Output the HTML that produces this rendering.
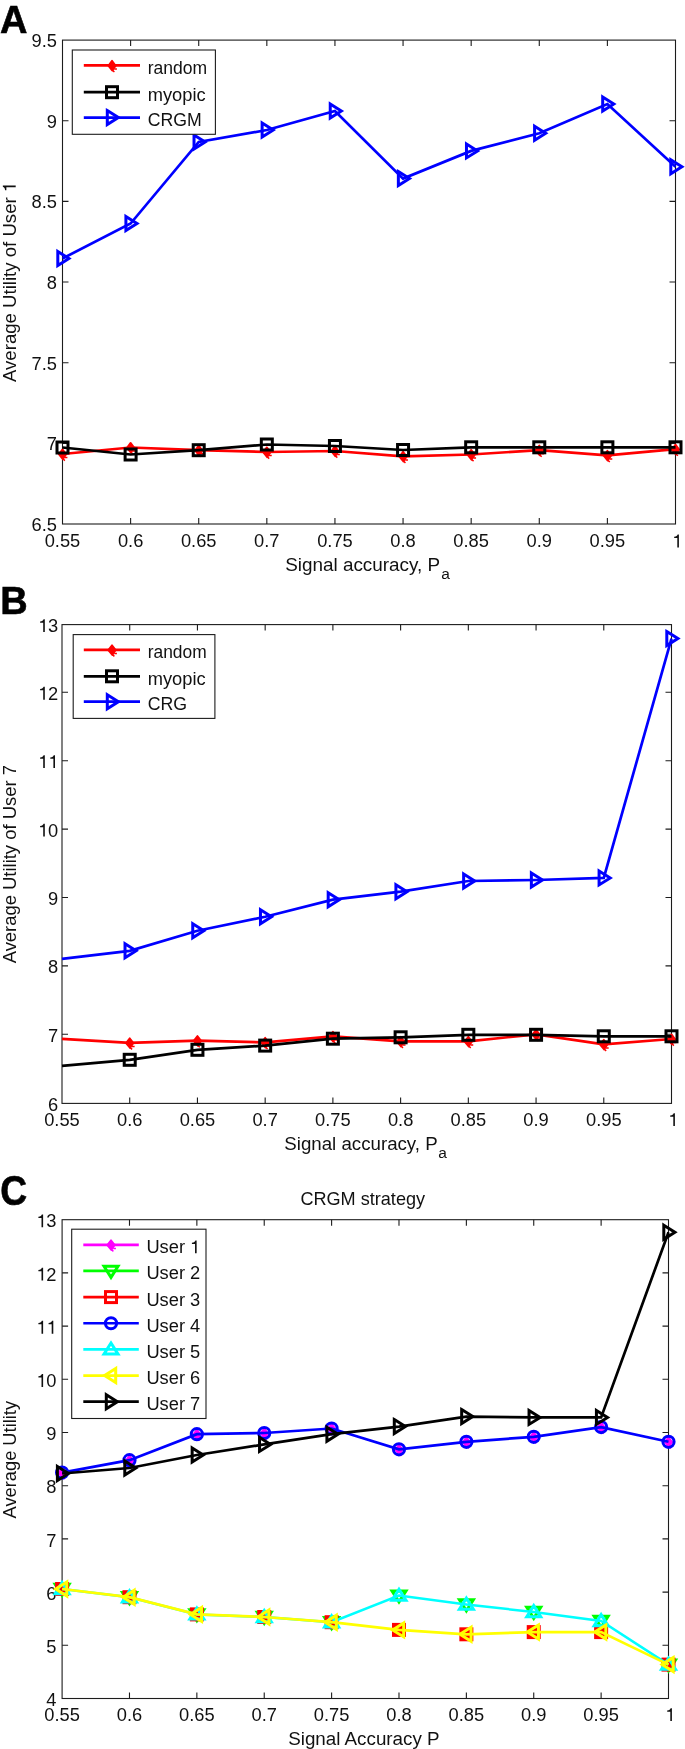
<!DOCTYPE html>
<html><head><meta charset="utf-8"><style>
html,body{margin:0;padding:0;background:#fff;}
body{width:685px;height:1749px;overflow:hidden;}
svg{display:block;font-family:"Liberation Sans",sans-serif;will-change:transform;}
</style></head><body>
<svg width="685" height="1749" viewBox="0 0 685 1749">
<rect width="685" height="1749" fill="#fff"/>
<path d="M130.61 524v-6M130.61 40.1v6M198.72 524v-6M198.72 40.1v6M266.83 524v-6M266.83 40.1v6M334.94 524v-6M334.94 40.1v6M403.06 524v-6M403.06 40.1v6M471.17 524v-6M471.17 40.1v6M539.28 524v-6M539.28 40.1v6M607.39 524v-6M607.39 40.1v6M62.5 120.75h6M675.5 120.75h-6M62.5 201.4h6M675.5 201.4h-6M62.5 282.05h6M675.5 282.05h-6M62.5 362.7h6M675.5 362.7h-6M62.5 443.35h6M675.5 443.35h-6" stroke="#1c1c1c" stroke-width="1.1" fill="none"/><rect x="62.5" y="40.1" width="613" height="483.9" fill="none" stroke="#1c1c1c" stroke-width="1.1"/><g font-size="18.3" fill="#111"><text x="62.5" y="547.4" text-anchor="middle">0.55</text><text x="130.61" y="547.4" text-anchor="middle">0.6</text><text x="198.72" y="547.4" text-anchor="middle">0.65</text><text x="266.83" y="547.4" text-anchor="middle">0.7</text><text x="334.94" y="547.4" text-anchor="middle">0.75</text><text x="403.06" y="547.4" text-anchor="middle">0.8</text><text x="471.17" y="547.4" text-anchor="middle">0.85</text><text x="539.28" y="547.4" text-anchor="middle">0.9</text><text x="607.39" y="547.4" text-anchor="middle">0.95</text><path transform="translate(672.34 547.4) scale(0.01830 -0.01830)" d="M271 0L359 0L359 703L290 703C270 640 220 590 101 578L101 510L271 510Z"/><text x="57" y="47.1" text-anchor="end">9.5</text><text x="57" y="127.75" text-anchor="end">9</text><text x="57" y="208.4" text-anchor="end">8.5</text><text x="57" y="289.05" text-anchor="end">8</text><text x="57" y="369.7" text-anchor="end">7.5</text><text x="57" y="450.35" text-anchor="end">7</text><text x="57" y="531" text-anchor="end">6.5</text></g><polyline points="62.5,454 130.61,447.5 198.72,450.2 266.83,452 334.94,451 403.06,456.3 471.17,454.5 539.28,450.1 607.39,455.4 675.5,449.2" fill="none" stroke="#ff0000" stroke-width="2.7" stroke-linejoin="miter"/><g stroke="#ff0000" fill="#ff0000"><path d="M62.5 449.4L66.2 454.3L62.8 459.2L58.8 454.3Z" stroke-width="1.8" stroke-linejoin="round"/><path d="M64.7 457.6L67.4 457.6M63.1 459L64.9 460.6" stroke-width="1.5" fill="none"/></g><g stroke="#ff0000" fill="#ff0000"><path d="M130.61 442.9L134.31 447.8L130.91 452.7L126.91 447.8Z" stroke-width="1.8" stroke-linejoin="round"/><path d="M132.81 451.1L135.51 451.1M131.21 452.5L133.01 454.1" stroke-width="1.5" fill="none"/></g><g stroke="#ff0000" fill="#ff0000"><path d="M198.72 445.6L202.42 450.5L199.02 455.4L195.02 450.5Z" stroke-width="1.8" stroke-linejoin="round"/><path d="M200.92 453.8L203.62 453.8M199.32 455.2L201.12 456.8" stroke-width="1.5" fill="none"/></g><g stroke="#ff0000" fill="#ff0000"><path d="M266.83 447.4L270.53 452.3L267.13 457.2L263.13 452.3Z" stroke-width="1.8" stroke-linejoin="round"/><path d="M269.03 455.6L271.73 455.6M267.43 457L269.23 458.6" stroke-width="1.5" fill="none"/></g><g stroke="#ff0000" fill="#ff0000"><path d="M334.94 446.4L338.64 451.3L335.24 456.2L331.24 451.3Z" stroke-width="1.8" stroke-linejoin="round"/><path d="M337.14 454.6L339.84 454.6M335.54 456L337.34 457.6" stroke-width="1.5" fill="none"/></g><g stroke="#ff0000" fill="#ff0000"><path d="M403.06 451.7L406.76 456.6L403.36 461.5L399.36 456.6Z" stroke-width="1.8" stroke-linejoin="round"/><path d="M405.26 459.9L407.96 459.9M403.66 461.3L405.46 462.9" stroke-width="1.5" fill="none"/></g><g stroke="#ff0000" fill="#ff0000"><path d="M471.17 449.9L474.87 454.8L471.47 459.7L467.47 454.8Z" stroke-width="1.8" stroke-linejoin="round"/><path d="M473.37 458.1L476.07 458.1M471.77 459.5L473.57 461.1" stroke-width="1.5" fill="none"/></g><g stroke="#ff0000" fill="#ff0000"><path d="M539.28 445.5L542.98 450.4L539.58 455.3L535.58 450.4Z" stroke-width="1.8" stroke-linejoin="round"/><path d="M541.48 453.7L544.18 453.7M539.88 455.1L541.68 456.7" stroke-width="1.5" fill="none"/></g><g stroke="#ff0000" fill="#ff0000"><path d="M607.39 450.8L611.09 455.7L607.69 460.6L603.69 455.7Z" stroke-width="1.8" stroke-linejoin="round"/><path d="M609.59 459L612.29 459M607.99 460.4L609.79 462" stroke-width="1.5" fill="none"/></g><g stroke="#ff0000" fill="#ff0000"><path d="M675.5 444.6L679.2 449.5L675.8 454.4L671.8 449.5Z" stroke-width="1.8" stroke-linejoin="round"/><path d="M677.7 452.8L680.4 452.8M676.1 454.2L677.9 455.8" stroke-width="1.5" fill="none"/></g><polyline points="62.5,447.5 130.61,454.5 198.72,450.2 266.83,444.5 334.94,446 403.06,450 471.17,447.3 539.28,447.3 607.39,447.3 675.5,447.3" fill="none" stroke="#000000" stroke-width="2.7" stroke-linejoin="miter"/><rect x="57" y="442" width="11" height="11" fill="none" stroke="#000000" stroke-width="3.0"/><rect x="125.11" y="449" width="11" height="11" fill="none" stroke="#000000" stroke-width="3.0"/><rect x="193.22" y="444.7" width="11" height="11" fill="none" stroke="#000000" stroke-width="3.0"/><rect x="261.33" y="439" width="11" height="11" fill="none" stroke="#000000" stroke-width="3.0"/><rect x="329.44" y="440.5" width="11" height="11" fill="none" stroke="#000000" stroke-width="3.0"/><rect x="397.56" y="444.5" width="11" height="11" fill="none" stroke="#000000" stroke-width="3.0"/><rect x="465.67" y="441.8" width="11" height="11" fill="none" stroke="#000000" stroke-width="3.0"/><rect x="533.78" y="441.8" width="11" height="11" fill="none" stroke="#000000" stroke-width="3.0"/><rect x="601.89" y="441.8" width="11" height="11" fill="none" stroke="#000000" stroke-width="3.0"/><rect x="670" y="441.8" width="11" height="11" fill="none" stroke="#000000" stroke-width="3.0"/><polyline points="62.5,258.5 130.61,223.5 198.72,142 266.83,130 334.94,111 403.06,178.6 471.17,150.9 539.28,133.3 607.39,104 675.5,166.8" fill="none" stroke="#0000ff" stroke-width="2.7" stroke-linejoin="miter"/><path d="M57.8 251.5L68.9 258.5L57.8 265.5Z" fill="none" stroke="#0000ff" stroke-width="3.0" stroke-linejoin="miter" stroke-miterlimit="10"/><path d="M125.91 216.5L137.01 223.5L125.91 230.5Z" fill="none" stroke="#0000ff" stroke-width="3.0" stroke-linejoin="miter" stroke-miterlimit="10"/><path d="M194.02 135L205.12 142L194.02 149Z" fill="none" stroke="#0000ff" stroke-width="3.0" stroke-linejoin="miter" stroke-miterlimit="10"/><path d="M262.13 123L273.23 130L262.13 137Z" fill="none" stroke="#0000ff" stroke-width="3.0" stroke-linejoin="miter" stroke-miterlimit="10"/><path d="M330.24 104L341.34 111L330.24 118Z" fill="none" stroke="#0000ff" stroke-width="3.0" stroke-linejoin="miter" stroke-miterlimit="10"/><path d="M398.36 171.6L409.46 178.6L398.36 185.6Z" fill="none" stroke="#0000ff" stroke-width="3.0" stroke-linejoin="miter" stroke-miterlimit="10"/><path d="M466.47 143.9L477.57 150.9L466.47 157.9Z" fill="none" stroke="#0000ff" stroke-width="3.0" stroke-linejoin="miter" stroke-miterlimit="10"/><path d="M534.58 126.3L545.68 133.3L534.58 140.3Z" fill="none" stroke="#0000ff" stroke-width="3.0" stroke-linejoin="miter" stroke-miterlimit="10"/><path d="M602.69 97L613.79 104L602.69 111Z" fill="none" stroke="#0000ff" stroke-width="3.0" stroke-linejoin="miter" stroke-miterlimit="10"/><path d="M670.8 159.8L681.9 166.8L670.8 173.8Z" fill="none" stroke="#0000ff" stroke-width="3.0" stroke-linejoin="miter" stroke-miterlimit="10"/><rect x="72.3" y="50" width="143.1" height="84.3" fill="#fff" stroke="#1c1c1c" stroke-width="1.1"/><line x1="83.8" y1="65.4" x2="140" y2="65.4" stroke="#ff0000" stroke-width="2.7"/><g stroke="#ff0000" fill="#ff0000"><path d="M112 60.8L115.7 65.7L112.3 70.6L108.3 65.7Z" stroke-width="1.8" stroke-linejoin="round"/><path d="M114.2 69L116.9 69M112.6 70.4L114.4 72" stroke-width="1.5" fill="none"/></g><text x="147.7" y="73.9" font-size="18.3" fill="#111" textLength="59.5" lengthAdjust="spacingAndGlyphs">random</text><line x1="83.8" y1="92.2" x2="140" y2="92.2" stroke="#000000" stroke-width="2.7"/><rect x="106.5" y="86.7" width="11" height="11" fill="none" stroke="#000000" stroke-width="3.0"/><text x="147.7" y="100.7" font-size="18.3" fill="#111">myopic</text><line x1="83.8" y1="117.6" x2="140" y2="117.6" stroke="#0000ff" stroke-width="2.7"/><path d="M107.3 110.6L118.4 117.6L107.3 124.6Z" fill="none" stroke="#0000ff" stroke-width="3.0" stroke-linejoin="miter" stroke-miterlimit="10"/><text x="147.7" y="126.1" font-size="18.3" fill="#111" textLength="54" lengthAdjust="spacingAndGlyphs">CRGM</text><path d="M129.72 1103.4v-6M129.72 624.6v6M197.44 1103.4v-6M197.44 624.6v6M265.17 1103.4v-6M265.17 624.6v6M332.89 1103.4v-6M332.89 624.6v6M400.61 1103.4v-6M400.61 624.6v6M468.33 1103.4v-6M468.33 624.6v6M536.06 1103.4v-6M536.06 624.6v6M603.78 1103.4v-6M603.78 624.6v6M62 692.3h6M671.5 692.3h-6M62 760.7h6M671.5 760.7h-6M62 829.1h6M671.5 829.1h-6M62 897.5h6M671.5 897.5h-6M62 965.9h6M671.5 965.9h-6M62 1034.3h6M671.5 1034.3h-6" stroke="#1c1c1c" stroke-width="1.1" fill="none"/><rect x="62" y="624.6" width="609.5" height="478.8" fill="none" stroke="#1c1c1c" stroke-width="1.1"/><g font-size="18.3" fill="#111"><text x="62" y="1126" text-anchor="middle">0.55</text><text x="129.72" y="1126" text-anchor="middle">0.6</text><text x="197.44" y="1126" text-anchor="middle">0.65</text><text x="265.17" y="1126" text-anchor="middle">0.7</text><text x="332.89" y="1126" text-anchor="middle">0.75</text><text x="400.61" y="1126" text-anchor="middle">0.8</text><text x="468.33" y="1126" text-anchor="middle">0.85</text><text x="536.06" y="1126" text-anchor="middle">0.9</text><text x="603.78" y="1126" text-anchor="middle">0.95</text><path transform="translate(668.34 1126) scale(0.01830 -0.01830)" d="M271 0L359 0L359 703L290 703C270 640 220 590 101 578L101 510L271 510Z"/><text x="58.2" y="632" text-anchor="end">&#8199;3</text><path transform="translate(38.25 632) scale(0.01830 -0.01830)" d="M271 0L359 0L359 703L290 703C270 640 220 590 101 578L101 510L271 510Z"/><text x="58.2" y="699.7" text-anchor="end">&#8199;2</text><path transform="translate(38.25 699.7) scale(0.01830 -0.01830)" d="M271 0L359 0L359 703L290 703C270 640 220 590 101 578L101 510L271 510Z"/><text x="58.2" y="768.1" text-anchor="end">&#8199;&#8199;</text><path transform="translate(38.25 768.1) scale(0.01830 -0.01830)" d="M271 0L359 0L359 703L290 703C270 640 220 590 101 578L101 510L271 510Z"/><path transform="translate(48.43 768.1) scale(0.01830 -0.01830)" d="M271 0L359 0L359 703L290 703C270 640 220 590 101 578L101 510L271 510Z"/><text x="58.2" y="836.5" text-anchor="end">&#8199;0</text><path transform="translate(38.25 836.5) scale(0.01830 -0.01830)" d="M271 0L359 0L359 703L290 703C270 640 220 590 101 578L101 510L271 510Z"/><text x="58.2" y="904.9" text-anchor="end">9</text><text x="58.2" y="973.3" text-anchor="end">8</text><text x="58.2" y="1041.7" text-anchor="end">7</text><text x="58.2" y="1110.8" text-anchor="end">6</text></g><polyline points="62,1038.9 129.72,1042.8 197.44,1040.6 265.17,1042.4 332.89,1036.4 400.61,1041.3 468.33,1041.3 536.06,1034.3 603.78,1044.3 671.5,1039" fill="none" stroke="#ff0000" stroke-width="2.7" stroke-linejoin="miter"/><g stroke="#ff0000" fill="#ff0000"><path d="M129.72 1038.2L133.42 1043.1L130.02 1048L126.02 1043.1Z" stroke-width="1.8" stroke-linejoin="round"/><path d="M131.92 1046.4L134.62 1046.4M130.32 1047.8L132.12 1049.4" stroke-width="1.5" fill="none"/></g><g stroke="#ff0000" fill="#ff0000"><path d="M197.44 1036L201.14 1040.9L197.74 1045.8L193.74 1040.9Z" stroke-width="1.8" stroke-linejoin="round"/><path d="M199.64 1044.2L202.34 1044.2M198.04 1045.6L199.84 1047.2" stroke-width="1.5" fill="none"/></g><g stroke="#ff0000" fill="#ff0000"><path d="M265.17 1037.8L268.87 1042.7L265.47 1047.6L261.47 1042.7Z" stroke-width="1.8" stroke-linejoin="round"/><path d="M267.37 1046L270.07 1046M265.77 1047.4L267.57 1049" stroke-width="1.5" fill="none"/></g><g stroke="#ff0000" fill="#ff0000"><path d="M332.89 1031.8L336.59 1036.7L333.19 1041.6L329.19 1036.7Z" stroke-width="1.8" stroke-linejoin="round"/><path d="M335.09 1040L337.79 1040M333.49 1041.4L335.29 1043" stroke-width="1.5" fill="none"/></g><g stroke="#ff0000" fill="#ff0000"><path d="M400.61 1036.7L404.31 1041.6L400.91 1046.5L396.91 1041.6Z" stroke-width="1.8" stroke-linejoin="round"/><path d="M402.81 1044.9L405.51 1044.9M401.21 1046.3L403.01 1047.9" stroke-width="1.5" fill="none"/></g><g stroke="#ff0000" fill="#ff0000"><path d="M468.33 1036.7L472.03 1041.6L468.63 1046.5L464.63 1041.6Z" stroke-width="1.8" stroke-linejoin="round"/><path d="M470.53 1044.9L473.23 1044.9M468.93 1046.3L470.73 1047.9" stroke-width="1.5" fill="none"/></g><g stroke="#ff0000" fill="#ff0000"><path d="M536.06 1029.7L539.76 1034.6L536.36 1039.5L532.36 1034.6Z" stroke-width="1.8" stroke-linejoin="round"/><path d="M538.26 1037.9L540.96 1037.9M536.66 1039.3L538.46 1040.9" stroke-width="1.5" fill="none"/></g><g stroke="#ff0000" fill="#ff0000"><path d="M603.78 1039.7L607.48 1044.6L604.08 1049.5L600.08 1044.6Z" stroke-width="1.8" stroke-linejoin="round"/><path d="M605.98 1047.9L608.68 1047.9M604.38 1049.3L606.18 1050.9" stroke-width="1.5" fill="none"/></g><g stroke="#ff0000" fill="#ff0000"><path d="M671.5 1034.4L675.2 1039.3L671.8 1044.2L667.8 1039.3Z" stroke-width="1.8" stroke-linejoin="round"/><path d="M673.7 1042.6L676.4 1042.6M672.1 1044L673.9 1045.6" stroke-width="1.5" fill="none"/></g><polyline points="62,1065.9 129.72,1059.8 197.44,1049.8 265.17,1045.6 332.89,1038.7 400.61,1037.3 468.33,1034.8 536.06,1034.8 603.78,1036.3 671.5,1036.3" fill="none" stroke="#000000" stroke-width="2.7" stroke-linejoin="miter"/><rect x="124.22" y="1054.3" width="11" height="11" fill="none" stroke="#000000" stroke-width="3.0"/><rect x="191.94" y="1044.3" width="11" height="11" fill="none" stroke="#000000" stroke-width="3.0"/><rect x="259.67" y="1040.1" width="11" height="11" fill="none" stroke="#000000" stroke-width="3.0"/><rect x="327.39" y="1033.2" width="11" height="11" fill="none" stroke="#000000" stroke-width="3.0"/><rect x="395.11" y="1031.8" width="11" height="11" fill="none" stroke="#000000" stroke-width="3.0"/><rect x="462.83" y="1029.3" width="11" height="11" fill="none" stroke="#000000" stroke-width="3.0"/><rect x="530.56" y="1029.3" width="11" height="11" fill="none" stroke="#000000" stroke-width="3.0"/><rect x="598.28" y="1030.8" width="11" height="11" fill="none" stroke="#000000" stroke-width="3.0"/><rect x="666" y="1030.8" width="11" height="11" fill="none" stroke="#000000" stroke-width="3.0"/><polyline points="62,958.9 129.72,950.8 197.44,930.8 265.17,916.8 332.89,899.7 400.61,891.7 468.33,881 536.06,880 603.78,877.9 671.5,638.6" fill="none" stroke="#0000ff" stroke-width="2.7" stroke-linejoin="miter"/><path d="M125.02 943.8L136.12 950.8L125.02 957.8Z" fill="none" stroke="#0000ff" stroke-width="3.0" stroke-linejoin="miter" stroke-miterlimit="10"/><path d="M192.74 923.8L203.84 930.8L192.74 937.8Z" fill="none" stroke="#0000ff" stroke-width="3.0" stroke-linejoin="miter" stroke-miterlimit="10"/><path d="M260.47 909.8L271.57 916.8L260.47 923.8Z" fill="none" stroke="#0000ff" stroke-width="3.0" stroke-linejoin="miter" stroke-miterlimit="10"/><path d="M328.19 892.7L339.29 899.7L328.19 906.7Z" fill="none" stroke="#0000ff" stroke-width="3.0" stroke-linejoin="miter" stroke-miterlimit="10"/><path d="M395.91 884.7L407.01 891.7L395.91 898.7Z" fill="none" stroke="#0000ff" stroke-width="3.0" stroke-linejoin="miter" stroke-miterlimit="10"/><path d="M463.63 874L474.73 881L463.63 888Z" fill="none" stroke="#0000ff" stroke-width="3.0" stroke-linejoin="miter" stroke-miterlimit="10"/><path d="M531.36 873L542.46 880L531.36 887Z" fill="none" stroke="#0000ff" stroke-width="3.0" stroke-linejoin="miter" stroke-miterlimit="10"/><path d="M599.08 870.9L610.18 877.9L599.08 884.9Z" fill="none" stroke="#0000ff" stroke-width="3.0" stroke-linejoin="miter" stroke-miterlimit="10"/><path d="M666.8 631.6L677.9 638.6L666.8 645.6Z" fill="none" stroke="#0000ff" stroke-width="3.0" stroke-linejoin="miter" stroke-miterlimit="10"/><rect x="73.2" y="634.6" width="141.7" height="83.8" fill="#fff" stroke="#1c1c1c" stroke-width="1.1"/><line x1="83.8" y1="649.8" x2="140" y2="649.8" stroke="#ff0000" stroke-width="2.7"/><g stroke="#ff0000" fill="#ff0000"><path d="M112 645.2L115.7 650.1L112.3 655L108.3 650.1Z" stroke-width="1.8" stroke-linejoin="round"/><path d="M114.2 653.4L116.9 653.4M112.6 654.8L114.4 656.4" stroke-width="1.5" fill="none"/></g><text x="147.7" y="658.3" font-size="18.3" fill="#111" textLength="59" lengthAdjust="spacingAndGlyphs">random</text><line x1="83.8" y1="676.3" x2="140" y2="676.3" stroke="#000000" stroke-width="2.7"/><rect x="106.5" y="670.8" width="11" height="11" fill="none" stroke="#000000" stroke-width="3.0"/><text x="147.7" y="684.8" font-size="18.3" fill="#111">myopic</text><line x1="83.8" y1="701.7" x2="140" y2="701.7" stroke="#0000ff" stroke-width="2.7"/><path d="M107.3 694.7L118.4 701.7L107.3 708.7Z" fill="none" stroke="#0000ff" stroke-width="3.0" stroke-linejoin="miter" stroke-miterlimit="10"/><text x="147.7" y="710.2" font-size="18.3" fill="#111" textLength="39.4" lengthAdjust="spacingAndGlyphs">CRG</text><path d="M129.48 1698.5v-6M129.48 1219.7v6M196.86 1698.5v-6M196.86 1219.7v6M264.23 1698.5v-6M264.23 1219.7v6M331.61 1698.5v-6M331.61 1219.7v6M398.99 1698.5v-6M398.99 1219.7v6M466.37 1698.5v-6M466.37 1219.7v6M533.74 1698.5v-6M533.74 1219.7v6M601.12 1698.5v-6M601.12 1219.7v6M62.1 1272.9h6M668.5 1272.9h-6M62.1 1326.1h6M668.5 1326.1h-6M62.1 1379.3h6M668.5 1379.3h-6M62.1 1432.5h6M668.5 1432.5h-6M62.1 1485.7h6M668.5 1485.7h-6M62.1 1538.9h6M668.5 1538.9h-6M62.1 1592.1h6M668.5 1592.1h-6M62.1 1645.3h6M668.5 1645.3h-6" stroke="#1c1c1c" stroke-width="1.1" fill="none"/><rect x="62.1" y="1219.7" width="606.4" height="478.8" fill="none" stroke="#1c1c1c" stroke-width="1.1"/><g font-size="18.3" fill="#111"><text x="62.1" y="1721" text-anchor="middle">0.55</text><text x="129.48" y="1721" text-anchor="middle">0.6</text><text x="196.86" y="1721" text-anchor="middle">0.65</text><text x="264.23" y="1721" text-anchor="middle">0.7</text><text x="331.61" y="1721" text-anchor="middle">0.75</text><text x="398.99" y="1721" text-anchor="middle">0.8</text><text x="466.37" y="1721" text-anchor="middle">0.85</text><text x="533.74" y="1721" text-anchor="middle">0.9</text><text x="601.12" y="1721" text-anchor="middle">0.95</text><path transform="translate(665.34 1721) scale(0.01830 -0.01830)" d="M271 0L359 0L359 703L290 703C270 640 220 590 101 578L101 510L271 510Z"/><text x="56.5" y="1227.3" text-anchor="end">&#8199;3</text><path transform="translate(36.55 1227.3) scale(0.01830 -0.01830)" d="M271 0L359 0L359 703L290 703C270 640 220 590 101 578L101 510L271 510Z"/><text x="56.5" y="1280.5" text-anchor="end">&#8199;2</text><path transform="translate(36.55 1280.5) scale(0.01830 -0.01830)" d="M271 0L359 0L359 703L290 703C270 640 220 590 101 578L101 510L271 510Z"/><text x="56.5" y="1333.7" text-anchor="end">&#8199;&#8199;</text><path transform="translate(36.55 1333.7) scale(0.01830 -0.01830)" d="M271 0L359 0L359 703L290 703C270 640 220 590 101 578L101 510L271 510Z"/><path transform="translate(46.73 1333.7) scale(0.01830 -0.01830)" d="M271 0L359 0L359 703L290 703C270 640 220 590 101 578L101 510L271 510Z"/><text x="56.5" y="1386.9" text-anchor="end">&#8199;0</text><path transform="translate(36.55 1386.9) scale(0.01830 -0.01830)" d="M271 0L359 0L359 703L290 703C270 640 220 590 101 578L101 510L271 510Z"/><text x="56.5" y="1440.1" text-anchor="end">9</text><text x="56.5" y="1493.3" text-anchor="end">8</text><text x="56.5" y="1546.5" text-anchor="end">7</text><text x="56.5" y="1599.7" text-anchor="end">6</text><text x="56.5" y="1652.9" text-anchor="end">5</text><text x="56.5" y="1706.1" text-anchor="end">4</text></g><g stroke="#ff00ff" fill="#ff00ff"><path d="M62.1 1468L65.8 1472.9L62.4 1477.8L58.4 1472.9Z" stroke-width="1.8" stroke-linejoin="round"/><path d="M64.3 1476.2L67 1476.2M62.7 1477.6L64.5 1479.2" stroke-width="1.5" fill="none"/></g><g stroke="#ff00ff" fill="#ff00ff"><path d="M129.48 1455.6L133.18 1460.5L129.78 1465.4L125.78 1460.5Z" stroke-width="1.8" stroke-linejoin="round"/><path d="M131.68 1463.8L134.38 1463.8M130.08 1465.2L131.88 1466.8" stroke-width="1.5" fill="none"/></g><g stroke="#ff00ff" fill="#ff00ff"><path d="M196.86 1429.6L200.56 1434.5L197.16 1439.4L193.16 1434.5Z" stroke-width="1.8" stroke-linejoin="round"/><path d="M199.06 1437.8L201.76 1437.8M197.46 1439.2L199.26 1440.8" stroke-width="1.5" fill="none"/></g><g stroke="#ff00ff" fill="#ff00ff"><path d="M264.23 1428.4L267.93 1433.3L264.53 1438.2L260.53 1433.3Z" stroke-width="1.8" stroke-linejoin="round"/><path d="M266.43 1436.6L269.13 1436.6M264.83 1438L266.63 1439.6" stroke-width="1.5" fill="none"/></g><g stroke="#ff00ff" fill="#ff00ff"><path d="M331.61 1423.9L335.31 1428.8L331.91 1433.7L327.91 1428.8Z" stroke-width="1.8" stroke-linejoin="round"/><path d="M333.81 1432.1L336.51 1432.1M332.21 1433.5L334.01 1435.1" stroke-width="1.5" fill="none"/></g><g stroke="#ff00ff" fill="#ff00ff"><path d="M398.99 1444.7L402.69 1449.6L399.29 1454.5L395.29 1449.6Z" stroke-width="1.8" stroke-linejoin="round"/><path d="M401.19 1452.9L403.89 1452.9M399.59 1454.3L401.39 1455.9" stroke-width="1.5" fill="none"/></g><g stroke="#ff00ff" fill="#ff00ff"><path d="M466.37 1437.2L470.07 1442.1L466.67 1447L462.67 1442.1Z" stroke-width="1.8" stroke-linejoin="round"/><path d="M468.57 1445.4L471.27 1445.4M466.97 1446.8L468.77 1448.4" stroke-width="1.5" fill="none"/></g><g stroke="#ff00ff" fill="#ff00ff"><path d="M533.74 1432.2L537.44 1437.1L534.04 1442L530.04 1437.1Z" stroke-width="1.8" stroke-linejoin="round"/><path d="M535.94 1440.4L538.64 1440.4M534.34 1441.8L536.14 1443.4" stroke-width="1.5" fill="none"/></g><g stroke="#ff00ff" fill="#ff00ff"><path d="M601.12 1422.5L604.82 1427.4L601.42 1432.3L597.42 1427.4Z" stroke-width="1.8" stroke-linejoin="round"/><path d="M603.32 1430.7L606.02 1430.7M601.72 1432.1L603.52 1433.7" stroke-width="1.5" fill="none"/></g><g stroke="#ff00ff" fill="#ff00ff"><path d="M668.5 1437.2L672.2 1442.1L668.8 1447L664.8 1442.1Z" stroke-width="1.8" stroke-linejoin="round"/><path d="M670.7 1445.4L673.4 1445.4M669.1 1446.8L670.9 1448.4" stroke-width="1.5" fill="none"/></g><path d="M55.1 1584.3L62.1 1595.4L69.1 1584.3Z" fill="none" stroke="#00ff00" stroke-width="3.0" stroke-linejoin="miter" stroke-miterlimit="10"/><path d="M122.48 1592.5L129.48 1603.6L136.48 1592.5Z" fill="none" stroke="#00ff00" stroke-width="3.0" stroke-linejoin="miter" stroke-miterlimit="10"/><path d="M189.86 1609.7L196.86 1620.8L203.86 1609.7Z" fill="none" stroke="#00ff00" stroke-width="3.0" stroke-linejoin="miter" stroke-miterlimit="10"/><path d="M257.23 1612.3L264.23 1623.4L271.23 1612.3Z" fill="none" stroke="#00ff00" stroke-width="3.0" stroke-linejoin="miter" stroke-miterlimit="10"/><path d="M324.61 1617.5L331.61 1628.6L338.61 1617.5Z" fill="none" stroke="#00ff00" stroke-width="3.0" stroke-linejoin="miter" stroke-miterlimit="10"/><path d="M391.99 1590.9L398.99 1602L405.99 1590.9Z" fill="none" stroke="#00ff00" stroke-width="3.0" stroke-linejoin="miter" stroke-miterlimit="10"/><path d="M459.37 1599.8L466.37 1610.9L473.37 1599.8Z" fill="none" stroke="#00ff00" stroke-width="3.0" stroke-linejoin="miter" stroke-miterlimit="10"/><path d="M526.74 1607.3L533.74 1618.4L540.74 1607.3Z" fill="none" stroke="#00ff00" stroke-width="3.0" stroke-linejoin="miter" stroke-miterlimit="10"/><path d="M594.12 1616.3L601.12 1627.4L608.12 1616.3Z" fill="none" stroke="#00ff00" stroke-width="3.0" stroke-linejoin="miter" stroke-miterlimit="10"/><path d="M661.5 1659.9L668.5 1671L675.5 1659.9Z" fill="none" stroke="#00ff00" stroke-width="3.0" stroke-linejoin="miter" stroke-miterlimit="10"/><rect x="56.6" y="1583.5" width="11" height="11" fill="#ff0000" stroke="#ff0000" stroke-width="3.0"/><rect x="123.98" y="1591.7" width="11" height="11" fill="#ff0000" stroke="#ff0000" stroke-width="3.0"/><rect x="191.36" y="1608.9" width="11" height="11" fill="#ff0000" stroke="#ff0000" stroke-width="3.0"/><rect x="258.73" y="1611.5" width="11" height="11" fill="#ff0000" stroke="#ff0000" stroke-width="3.0"/><rect x="326.11" y="1616.7" width="11" height="11" fill="#ff0000" stroke="#ff0000" stroke-width="3.0"/><rect x="393.49" y="1624.4" width="11" height="11" fill="#ff0000" stroke="#ff0000" stroke-width="3.0"/><rect x="460.87" y="1628.8" width="11" height="11" fill="#ff0000" stroke="#ff0000" stroke-width="3.0"/><rect x="528.24" y="1626.6" width="11" height="11" fill="#ff0000" stroke="#ff0000" stroke-width="3.0"/><rect x="595.62" y="1626.6" width="11" height="11" fill="#ff0000" stroke="#ff0000" stroke-width="3.0"/><rect x="663" y="1659.1" width="11" height="11" fill="#ff0000" stroke="#ff0000" stroke-width="3.0"/><polyline points="62.1,1472.6 129.48,1460.2 196.86,1434.2 264.23,1433 331.61,1428.5 398.99,1449.3 466.37,1441.8 533.74,1436.8 601.12,1427.1 668.5,1441.8" fill="none" stroke="#0000ff" stroke-width="2.7" stroke-linejoin="miter"/><circle cx="62.1" cy="1472.6" r="5.6" fill="none" stroke="#0000ff" stroke-width="3.0"/><circle cx="129.48" cy="1460.2" r="5.6" fill="none" stroke="#0000ff" stroke-width="3.0"/><circle cx="196.86" cy="1434.2" r="5.6" fill="none" stroke="#0000ff" stroke-width="3.0"/><circle cx="264.23" cy="1433" r="5.6" fill="none" stroke="#0000ff" stroke-width="3.0"/><circle cx="331.61" cy="1428.5" r="5.6" fill="none" stroke="#0000ff" stroke-width="3.0"/><circle cx="398.99" cy="1449.3" r="5.6" fill="none" stroke="#0000ff" stroke-width="3.0"/><circle cx="466.37" cy="1441.8" r="5.6" fill="none" stroke="#0000ff" stroke-width="3.0"/><circle cx="533.74" cy="1436.8" r="5.6" fill="none" stroke="#0000ff" stroke-width="3.0"/><circle cx="601.12" cy="1427.1" r="5.6" fill="none" stroke="#0000ff" stroke-width="3.0"/><circle cx="668.5" cy="1441.8" r="5.6" fill="none" stroke="#0000ff" stroke-width="3.0"/><polyline points="62.1,1589 129.48,1597.2 196.86,1614.4 264.23,1617 331.61,1622.2 398.99,1595.6 466.37,1604.5 533.74,1612 601.12,1621 668.5,1664.6" fill="none" stroke="#00ffff" stroke-width="2.5" stroke-linejoin="miter"/><path d="M55.1 1593.7L62.1 1582.6L69.1 1593.7Z" fill="none" stroke="#00ffff" stroke-width="3.0" stroke-linejoin="miter" stroke-miterlimit="10"/><path d="M122.48 1601.9L129.48 1590.8L136.48 1601.9Z" fill="none" stroke="#00ffff" stroke-width="3.0" stroke-linejoin="miter" stroke-miterlimit="10"/><path d="M189.86 1619.1L196.86 1608L203.86 1619.1Z" fill="none" stroke="#00ffff" stroke-width="3.0" stroke-linejoin="miter" stroke-miterlimit="10"/><path d="M257.23 1621.7L264.23 1610.6L271.23 1621.7Z" fill="none" stroke="#00ffff" stroke-width="3.0" stroke-linejoin="miter" stroke-miterlimit="10"/><path d="M324.61 1626.9L331.61 1615.8L338.61 1626.9Z" fill="none" stroke="#00ffff" stroke-width="3.0" stroke-linejoin="miter" stroke-miterlimit="10"/><path d="M391.99 1600.3L398.99 1589.2L405.99 1600.3Z" fill="none" stroke="#00ffff" stroke-width="3.0" stroke-linejoin="miter" stroke-miterlimit="10"/><path d="M459.37 1609.2L466.37 1598.1L473.37 1609.2Z" fill="none" stroke="#00ffff" stroke-width="3.0" stroke-linejoin="miter" stroke-miterlimit="10"/><path d="M526.74 1616.7L533.74 1605.6L540.74 1616.7Z" fill="none" stroke="#00ffff" stroke-width="3.0" stroke-linejoin="miter" stroke-miterlimit="10"/><path d="M594.12 1625.7L601.12 1614.6L608.12 1625.7Z" fill="none" stroke="#00ffff" stroke-width="3.0" stroke-linejoin="miter" stroke-miterlimit="10"/><path d="M661.5 1669.3L668.5 1658.2L675.5 1669.3Z" fill="none" stroke="#00ffff" stroke-width="3.0" stroke-linejoin="miter" stroke-miterlimit="10"/><polyline points="62.1,1589 129.48,1597.2 196.86,1614.4 264.23,1617 331.61,1622.2 398.99,1629.9 466.37,1634.3 533.74,1632.1 601.12,1632.1 668.5,1664.6" fill="none" stroke="#ffff00" stroke-width="2.7" stroke-linejoin="miter"/><path d="M66.8 1582L55.7 1589L66.8 1596Z" fill="none" stroke="#ffff00" stroke-width="3.0" stroke-linejoin="miter" stroke-miterlimit="10"/><path d="M134.18 1590.2L123.08 1597.2L134.18 1604.2Z" fill="none" stroke="#ffff00" stroke-width="3.0" stroke-linejoin="miter" stroke-miterlimit="10"/><path d="M201.56 1607.4L190.46 1614.4L201.56 1621.4Z" fill="none" stroke="#ffff00" stroke-width="3.0" stroke-linejoin="miter" stroke-miterlimit="10"/><path d="M268.93 1610L257.83 1617L268.93 1624Z" fill="none" stroke="#ffff00" stroke-width="3.0" stroke-linejoin="miter" stroke-miterlimit="10"/><path d="M336.31 1615.2L325.21 1622.2L336.31 1629.2Z" fill="none" stroke="#ffff00" stroke-width="3.0" stroke-linejoin="miter" stroke-miterlimit="10"/><path d="M403.69 1622.9L392.59 1629.9L403.69 1636.9Z" fill="none" stroke="#ffff00" stroke-width="3.0" stroke-linejoin="miter" stroke-miterlimit="10"/><path d="M471.07 1627.3L459.97 1634.3L471.07 1641.3Z" fill="none" stroke="#ffff00" stroke-width="3.0" stroke-linejoin="miter" stroke-miterlimit="10"/><path d="M538.44 1625.1L527.34 1632.1L538.44 1639.1Z" fill="none" stroke="#ffff00" stroke-width="3.0" stroke-linejoin="miter" stroke-miterlimit="10"/><path d="M605.82 1625.1L594.72 1632.1L605.82 1639.1Z" fill="none" stroke="#ffff00" stroke-width="3.0" stroke-linejoin="miter" stroke-miterlimit="10"/><path d="M673.2 1657.6L662.1 1664.6L673.2 1671.6Z" fill="none" stroke="#ffff00" stroke-width="3.0" stroke-linejoin="miter" stroke-miterlimit="10"/><polyline points="62.1,1473.5 129.48,1468 196.86,1455 264.23,1444.4 331.61,1434.2 398.99,1426.6 466.37,1416.6 533.74,1417.4 601.12,1417.4 668.5,1232.3" fill="none" stroke="#000000" stroke-width="2.7" stroke-linejoin="miter"/><path d="M57.4 1466.5L68.5 1473.5L57.4 1480.5Z" fill="none" stroke="#000000" stroke-width="3.0" stroke-linejoin="miter" stroke-miterlimit="10"/><path d="M124.78 1461L135.88 1468L124.78 1475Z" fill="none" stroke="#000000" stroke-width="3.0" stroke-linejoin="miter" stroke-miterlimit="10"/><path d="M192.16 1448L203.26 1455L192.16 1462Z" fill="none" stroke="#000000" stroke-width="3.0" stroke-linejoin="miter" stroke-miterlimit="10"/><path d="M259.53 1437.4L270.63 1444.4L259.53 1451.4Z" fill="none" stroke="#000000" stroke-width="3.0" stroke-linejoin="miter" stroke-miterlimit="10"/><path d="M326.91 1427.2L338.01 1434.2L326.91 1441.2Z" fill="none" stroke="#000000" stroke-width="3.0" stroke-linejoin="miter" stroke-miterlimit="10"/><path d="M394.29 1419.6L405.39 1426.6L394.29 1433.6Z" fill="none" stroke="#000000" stroke-width="3.0" stroke-linejoin="miter" stroke-miterlimit="10"/><path d="M461.67 1409.6L472.77 1416.6L461.67 1423.6Z" fill="none" stroke="#000000" stroke-width="3.0" stroke-linejoin="miter" stroke-miterlimit="10"/><path d="M529.04 1410.4L540.14 1417.4L529.04 1424.4Z" fill="none" stroke="#000000" stroke-width="3.0" stroke-linejoin="miter" stroke-miterlimit="10"/><path d="M596.42 1410.4L607.52 1417.4L596.42 1424.4Z" fill="none" stroke="#000000" stroke-width="3.0" stroke-linejoin="miter" stroke-miterlimit="10"/><path d="M663.8 1225.3L674.9 1232.3L663.8 1239.3Z" fill="none" stroke="#000000" stroke-width="3.0" stroke-linejoin="miter" stroke-miterlimit="10"/><rect x="71.7" y="1229.2" width="134.3" height="189.3" fill="#fff" stroke="#1c1c1c" stroke-width="1.1"/><line x1="83.3" y1="1244.8" x2="138.8" y2="1244.8" stroke="#ff00ff" stroke-width="2.7"/><g stroke="#ff00ff" fill="#ff00ff"><path d="M111 1240.2L114.7 1245.1L111.3 1250L107.3 1245.1Z" stroke-width="1.8" stroke-linejoin="round"/><path d="M113.2 1248.4L115.9 1248.4M111.6 1249.8L113.4 1251.4" stroke-width="1.5" fill="none"/></g><text x="146.4" y="1253.3" font-size="18.3" fill="#111">User &#8199;</text><path transform="translate(190.07 1253.3) scale(0.01830 -0.01830)" d="M271 0L359 0L359 703L290 703C270 640 220 590 101 578L101 510L271 510Z" fill="#111"/><line x1="83.3" y1="1270.95" x2="138.8" y2="1270.95" stroke="#00ff00" stroke-width="2.7"/><path d="M104 1266.25L111 1277.35L118 1266.25Z" fill="none" stroke="#00ff00" stroke-width="3.0" stroke-linejoin="miter" stroke-miterlimit="10"/><text x="146.4" y="1279.45" font-size="18.3" fill="#111">User 2</text><line x1="83.3" y1="1297.1" x2="138.8" y2="1297.1" stroke="#ff0000" stroke-width="2.7"/><rect x="105.5" y="1291.6" width="11" height="11" fill="none" stroke="#ff0000" stroke-width="3.0"/><text x="146.4" y="1305.6" font-size="18.3" fill="#111">User 3</text><line x1="83.3" y1="1323.25" x2="138.8" y2="1323.25" stroke="#0000ff" stroke-width="2.7"/><circle cx="111" cy="1323.25" r="5.6" fill="none" stroke="#0000ff" stroke-width="3.0"/><text x="146.4" y="1331.75" font-size="18.3" fill="#111">User 4</text><line x1="83.3" y1="1349.4" x2="138.8" y2="1349.4" stroke="#00ffff" stroke-width="2.7"/><path d="M104 1354.1L111 1343L118 1354.1Z" fill="none" stroke="#00ffff" stroke-width="3.0" stroke-linejoin="miter" stroke-miterlimit="10"/><text x="146.4" y="1357.9" font-size="18.3" fill="#111">User 5</text><line x1="83.3" y1="1375.55" x2="138.8" y2="1375.55" stroke="#ffff00" stroke-width="2.7"/><path d="M115.7 1368.55L104.6 1375.55L115.7 1382.55Z" fill="none" stroke="#ffff00" stroke-width="3.0" stroke-linejoin="miter" stroke-miterlimit="10"/><text x="146.4" y="1384.05" font-size="18.3" fill="#111">User 6</text><line x1="83.3" y1="1401.7" x2="138.8" y2="1401.7" stroke="#000000" stroke-width="2.7"/><path d="M106.3 1394.7L117.4 1401.7L106.3 1408.7Z" fill="none" stroke="#000000" stroke-width="3.0" stroke-linejoin="miter" stroke-miterlimit="10"/><text x="146.4" y="1410.2" font-size="18.3" fill="#111">User 7</text><g fill="#111"><text x="300.4" y="1205.4" font-size="18.1">CRGM strategy</text><text x="285.15" y="570.6" font-size="18.9">Signal accuracy, P</text><text x="441.2" y="578.7" font-size="15.5">a</text><text x="284.3" y="1149.7" font-size="18.7">Signal accuracy, P</text><text x="438.2" y="1158.3" font-size="15.5">a</text><text x="288.2" y="1744.5" font-size="18.8">Signal Accuracy P</text><g font-size="18.3"><g transform="translate(15.7 281.9) rotate(-90)"><text text-anchor="middle" textLength="200.25" lengthAdjust="spacingAndGlyphs">Average Utility of User &#8199;</text><path transform="translate(89.78 0) scale(0.01830 -0.01830)" d="M271 0L359 0L359 703L290 703C270 640 220 590 101 578L101 510L271 510Z"/></g><text transform="translate(15.7 864.2) rotate(-90)" text-anchor="middle" textLength="198.2" lengthAdjust="spacingAndGlyphs">Average Utility of User 7</text><text transform="translate(15.7 1459.7) rotate(-90)" text-anchor="middle">Average Utility</text></g></g><g font-size="38" font-weight="bold" fill="#000" stroke="#000" stroke-width="0.6"><text x="0.1" y="32.5">A</text><text x="0.2" y="614.2">B</text><text transform="translate(0.2 1205.1) scale(0.98 1.1)">C</text></g>
</svg>
</body></html>
